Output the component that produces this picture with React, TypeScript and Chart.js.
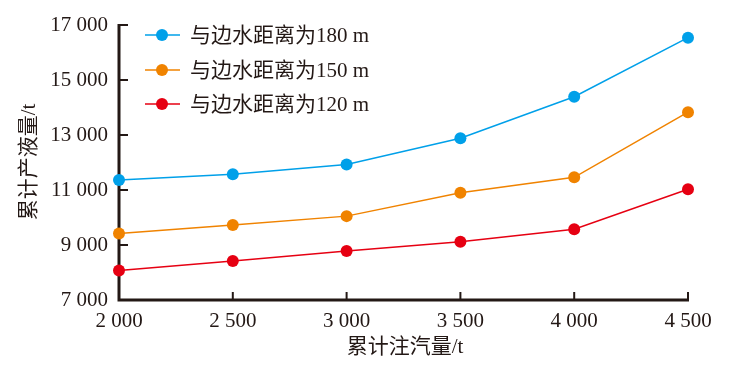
import React, { useEffect, useRef } from "react";
import { Chart, registerables } from "chart.js";

Chart.register(...registerables);

const xValues = [2000, 2500, 3000, 3500, 4000, 4500];
const series180 = [11360, 11570, 11930, 12880, 14390, 16540];
const series150 = [9420, 9730, 10050, 10900, 11460, 13830];
const series120 = [8070, 8420, 8780, 9120, 9570, 11030];
const seriesLabels = ["与边水距离为180 m", "与边水距离为150 m", "与边水距离为120 m"];
const seriesColors = ["#00A0E9", "#F08300", "#E60012"];
const xTitle = "累计注汽量/t";
const yTitle = "累计产液量/t";

const FONT = "'Liberation Serif', 'Noto Sans CJK SC', serif";
const INK = "#231815";

const fmt = (v: number) => `${Math.floor(v / 1000)} ${String(v % 1000).padStart(3, "0")}`;

const decorPlugin = {
  id: "decor",
  beforeDatasetsDraw(chart: any) {
    const { ctx, chartArea } = chart;
    const xs = chart.scales.x;
    const ys = chart.scales.y;
    ctx.save();
    ctx.strokeStyle = INK;
    ctx.lineWidth = 3;
    ctx.lineCap = "butt";
    ctx.beginPath();
    ctx.moveTo(chartArea.left, chartArea.top - 1);
    ctx.lineTo(chartArea.left, chartArea.bottom);
    ctx.lineTo(chartArea.right + 1, chartArea.bottom);
    ctx.stroke();
    ctx.lineWidth = 2;
    ys.ticks.forEach((t: any) => {
      const p = ys.getPixelForValue(t.value);
      ctx.beginPath();
      ctx.moveTo(chartArea.left, p);
      ctx.lineTo(chartArea.left + 9, p);
      ctx.stroke();
    });
    xs.ticks.forEach((t: any) => {
      const p = xs.getPixelForValue(t.value);
      ctx.beginPath();
      ctx.moveTo(p, chartArea.bottom);
      ctx.lineTo(p, chartArea.bottom - 8);
      ctx.stroke();
    });
    ctx.restore();
  },
  afterDraw(chart: any) {
    const { ctx } = chart;
    ctx.save();
    // axis titles
    ctx.fillStyle = INK;
    ctx.font = `21px ${FONT}`;
    ctx.textAlign = "center";
    ctx.textBaseline = "middle";
    ctx.fillText(xTitle, 405, 347);
    ctx.save();
    ctx.translate(29, 162);
    ctx.rotate(-Math.PI / 2);
    ctx.fillText(yTitle, 0, 0);
    ctx.restore();
    // legend
    const rows = [35, 70, 104];
    ctx.textAlign = "left";
    rows.forEach((y, i) => {
      ctx.strokeStyle = seriesColors[i];
      ctx.lineWidth = 1.5;
      ctx.beginPath();
      ctx.moveTo(145, y);
      ctx.lineTo(180, y);
      ctx.stroke();
      ctx.fillStyle = seriesColors[i];
      ctx.beginPath();
      ctx.arc(162, y, 6, 0, Math.PI * 2);
      ctx.fill();
      ctx.fillStyle = INK;
      ctx.font = `21px ${FONT}`;
      ctx.fillText(seriesLabels[i], 190, y + 1);
    });
    ctx.restore();
  },
};

export default function App() {
  const ref = useRef<HTMLCanvasElement | null>(null);
  useEffect(() => {
    document.body.style.margin = "0";
    const all = [series180, series150, series120];
    const chart = new Chart(ref.current!, {
      type: "line",
      data: {
        datasets: all.map((s, i) => ({
          label: seriesLabels[i],
          data: s.map((y, j) => ({ x: xValues[j], y })),
          borderColor: seriesColors[i],
          backgroundColor: seriesColors[i],
          borderWidth: 1.5,
          pointRadius: 6,
          pointBorderWidth: 0,
          pointBackgroundColor: seriesColors[i],
          clip: false as any,
          tension: 0,
        })),
      },
      options: {
        animation: false,
        responsive: false,
        maintainAspectRatio: false,
        layout: { padding: { top: 25, right: 64, left: 0, bottom: 0 } },
        plugins: { legend: { display: false }, tooltip: { enabled: false } },
        scales: {
          x: {
            type: "linear",
            min: 2000,
            max: 4500,
            grid: { display: false },
            border: { display: false },
            ticks: {
              stepSize: 500,
              padding: 1,
              color: INK,
              font: { family: FONT, size: 21 },
              callback: (v: any) => fmt(Number(v)),
              maxRotation: 0,
            },
            afterFit: (s: any) => {
              s.height = 70;
            },
          },
          y: {
            min: 7000,
            max: 17000,
            grid: { display: false },
            border: { display: false },
            ticks: {
              stepSize: 2000,
              padding: 3,
              color: INK,
              font: { family: FONT, size: 21 },
              callback: (v: any) => fmt(Number(v)),
            },
            afterFit: (s: any) => {
              s.width = 119;
            },
          },
        },
      },
      plugins: [decorPlugin],
    });
    return () => chart.destroy();
  }, []);
  return (
    <div style={{ position: "absolute", left: 0, top: 0, width: 752, height: 370 }}>
      <canvas ref={ref} width={752} height={370} style={{ width: 752, height: 370 }} />
    </div>
  );
}
